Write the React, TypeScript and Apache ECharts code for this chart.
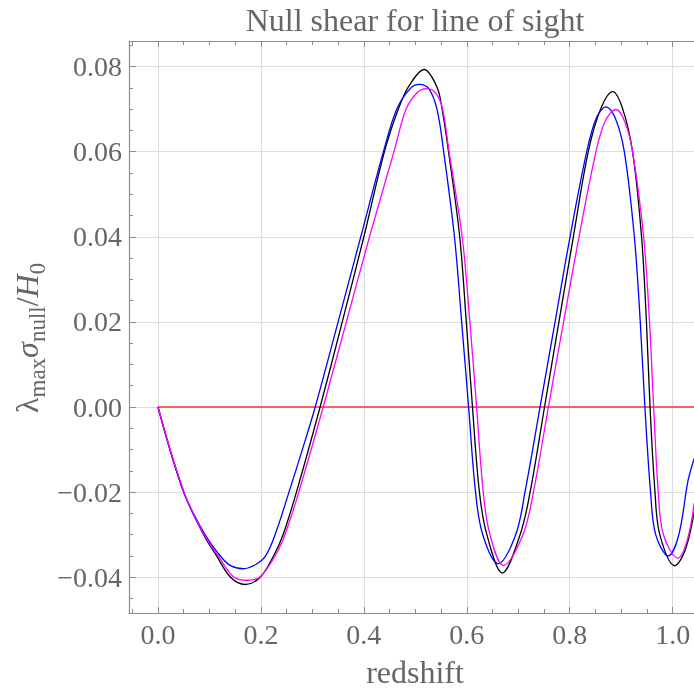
import React, { useEffect, useRef } from 'react';
import * as echarts from 'echarts';

// Plot window (data units) and tick positions
const xRange = [-0.0563, 1.0414];
const yRange = [-0.0484, 0.086];
const xMajorTicks = [0, 0.2, 0.4, 0.6, 0.8, 1.0];
const xMinorTicks = [-0.05, 0.05, 0.1, 0.15, 0.25, 0.3, 0.35, 0.45, 0.5, 0.55, 0.65, 0.7, 0.75, 0.85, 0.9, 0.95];
const yMajorTicks = [-0.04, -0.02, 0, 0.02, 0.04, 0.06, 0.08];
const yMinorTicks = [-0.045, -0.035, -0.03, -0.025, -0.015, -0.01, -0.005, 0.005, 0.01, 0.015, 0.025, 0.03, 0.035, 0.045, 0.05, 0.055, 0.065, 0.07, 0.075, 0.085];

// Null shear curves: redshift vs lambda_max * sigma_null / H0
const blackZ = [0, 0.05, 0.09, 0.114, 0.141, 0.1695, 0.1985, 0.2245, 0.243, 0.269, 0.315, 0.358, 0.4, 0.44, 0.467, 0.488, 0.517, 0.542, 0.552, 0.5645, 0.5862, 0.599, 0.611, 0.6245, 0.639, 0.669, 0.7035, 0.723, 0.751, 0.779, 0.807, 0.836, 0.86, 0.8835, 0.903, 0.922, 0.9395, 0.949, 0.956, 0.9656, 0.975, 1.004, 1.024, 1.042];
const blackS = [0, -0.02, -0.0303, -0.035, -0.04, -0.0417, -0.04, -0.035, -0.03, -0.02, 0, 0.02, 0.04, 0.06, 0.07, 0.0755, 0.0793, 0.0752, 0.07, 0.06, 0.04, 0.02, 0, -0.02, -0.03, -0.039, -0.03, -0.02, 0, 0.02, 0.04, 0.06, 0.07, 0.0741, 0.07, 0.06, 0.04, 0.02, 0, -0.02, -0.03, -0.0373, -0.0337, -0.0245];

const blueZ = [0, 0.05, 0.0915, 0.121, 0.14, 0.165, 0.19, 0.209, 0.2275, 0.2545, 0.2805, 0.3055, 0.35, 0.394, 0.438, 0.464, 0.49, 0.508, 0.526, 0.542, 0.555, 0.576, 0.59, 0.6035, 0.617, 0.631, 0.661, 0.695, 0.713, 0.7423, 0.7715, 0.8006, 0.833, 0.852, 0.8705, 0.888, 0.906, 0.9255, 0.937, 0.946, 0.957, 0.967, 0.9915, 1.0115, 1.03, 1.042];
const blueS = [0, -0.02, -0.03, -0.035, -0.0372, -0.038, -0.037, -0.035, -0.03, -0.02, -0.01, 0, 0.02, 0.04, 0.06, 0.07, 0.0748, 0.0758, 0.0748, 0.07, 0.06, 0.04, 0.02, 0, -0.02, -0.03, -0.0368, -0.03, -0.02, 0, 0.02, 0.04, 0.06, 0.068, 0.0705, 0.068, 0.06, 0.04, 0.02, 0, -0.02, -0.03, -0.035, -0.0302, -0.0172, -0.012];

const magentaZ = [0, 0.05, 0.0905, 0.117, 0.146, 0.1728, 0.1975, 0.2275, 0.2465, 0.2735, 0.321, 0.366, 0.411, 0.4585, 0.482, 0.503, 0.5223, 0.54, 0.553, 0.5655, 0.591, 0.606, 0.619, 0.632, 0.645, 0.671, 0.709, 0.7294, 0.7585, 0.788, 0.818, 0.851, 0.869, 0.89, 0.907, 0.922, 0.9435, 0.955, 0.963, 0.972, 0.982, 1.01, 1.028, 1.042];
const magentaS = [0, -0.0198, -0.0302, -0.035, -0.0398, -0.0407, -0.04, -0.035, -0.03, -0.02, 0, 0.02, 0.04, 0.06, 0.07, 0.0738, 0.0748, 0.0737, 0.07, 0.06, 0.04, 0.02, 0, -0.02, -0.03, -0.0372, -0.03, -0.02, 0, 0.02, 0.04, 0.06, 0.0672, 0.0699, 0.067, 0.06, 0.04, 0.02, 0, -0.02, -0.03, -0.0355, -0.0314, -0.0225];

// Reference level at zero
const zeroZ = [0, 1.0414];
const zeroS = [0, 0];

const SERIF = '"Liberation Serif", "DejaVu Serif", serif';
const TEXT = '#666666';
const FRAME = '#8c8c8c';
const GRID = '#dcdcdc';

const GRID_LEFT = 129;
const GRID_TOP = 41;
const GRID_BOTTOM_Y = 613;

function curve(xs: number[], ys: number[], color: string, z: number) {
  return {
    type: 'line',
    data: xs.map((x, i) => [x, ys[i]]),
    symbol: 'none',
    showSymbol: false,
    smooth: 0.35,
    lineStyle: { color, width: 1.3 },
    xAxisIndex: 0,
    yAxisIndex: 0,
    silent: true,
    z,
  };
}

function tickAxis(position: string, values: number[], length: number, withLine: boolean) {
  const vertical = position === 'left' || position === 'right';
  return {
    type: 'value',
    position,
    min: vertical ? yRange[0] : xRange[0],
    max: vertical ? yRange[1] : xRange[1],
    axisLine: { show: withLine, onZero: false, lineStyle: { color: FRAME, width: 1.2 } },
    axisTick: { show: true, inside: true, length, customValues: values, lineStyle: { color: FRAME, width: 1 } },
    axisLabel: { show: false },
    splitLine: { show: false },
  };
}

function measure(text: string, font: string) {
  const ctx = document.createElement('canvas').getContext('2d')!;
  ctx.font = font;
  return ctx.measureText(text).width;
}

export default function App() {
  const ref = useRef<HTMLDivElement>(null);
  useEffect(() => {
    const chart = echarts.init(ref.current!, null, { renderer: 'svg' });

    // y-axis label with subscripts, laid out along the baseline then rotated
    const mainSize = 32;
    const subSize = 23;
    const pieces = [
      { t: 'λ', sub: false, italic: false },
      { t: 'max', sub: true, italic: false },
      { t: 'σ', sub: false, italic: true },
      { t: 'null', sub: true, italic: false },
      { t: '/', sub: false, italic: false },
      { t: 'H', sub: false, italic: true },
      { t: '0', sub: true, italic: false },
    ];
    let cursor = 0;
    const labelChildren = pieces.map((p) => {
      const size = p.sub ? subSize : mainSize;
      const font = `${p.italic ? 'italic ' : ''}${size}px ${SERIF}`;
      const w = measure(p.t, font);
      const el = {
        type: 'text',
        x: cursor,
        y: p.sub ? 10 : 0,
        style: {
          text: p.t,
          fontSize: size,
          fontFamily: SERIF,
          fontStyle: p.italic ? 'italic' : 'normal',
          fill: TEXT,
          align: 'left',
          verticalAlign: 'middle',
        },
      };
      cursor += w;
      return el;
    });

    const option = {
      animation: false,
      grid: { left: GRID_LEFT, top: GRID_TOP, width: 566, height: GRID_BOTTOM_Y - GRID_TOP },
      xAxis: [
        {
          type: 'value',
          position: 'bottom',
          min: xRange[0],
          max: xRange[1],
          axisLine: { show: true, onZero: false, lineStyle: { color: FRAME, width: 1.2 } },
          axisTick: { show: true, inside: true, length: 6, customValues: xMajorTicks, lineStyle: { color: FRAME, width: 1 } },
          axisLabel: {
            customValues: xMajorTicks,
            formatter: (v: number) => v.toFixed(1),
            margin: 7,
            fontSize: 28,
            fontFamily: SERIF,
            color: TEXT,
          },
          splitLine: { show: true, lineStyle: { color: GRID, width: 1 } },
        },
        tickAxis('bottom', xMinorTicks, 4, false),
        tickAxis('top', xMajorTicks, 6, true),
        tickAxis('top', xMinorTicks, 4, false),
      ],
      yAxis: [
        {
          type: 'value',
          position: 'left',
          min: yRange[0],
          max: yRange[1],
          axisLine: { show: true, onZero: false, lineStyle: { color: FRAME, width: 1.2 } },
          axisTick: { show: true, inside: true, length: 7, customValues: yMajorTicks, lineStyle: { color: FRAME, width: 1 } },
          axisLabel: {
            customValues: yMajorTicks,
            formatter: (v: number) => (v < -1e-9 ? '\u2212' : '') + Math.abs(v).toFixed(2),
            margin: 7,
            fontSize: 28,
            fontFamily: SERIF,
            color: TEXT,
          },
          splitLine: { show: true, lineStyle: { color: GRID, width: 1 } },
        },
        tickAxis('left', yMinorTicks, 4, false),
      ],
      graphic: [
        {
          type: 'text',
          x: 415,
          y: 20,
          style: { text: 'Null shear for line of sight', fontSize: 32, lineHeight: 26, fontFamily: SERIF, fill: TEXT, align: 'center', verticalAlign: 'middle' },
        },
        {
          type: 'text',
          x: 415,
          y: 672,
          style: { text: 'redshift', fontSize: 32, lineHeight: 22, fontFamily: SERIF, fill: TEXT, align: 'center', verticalAlign: 'middle' },
        },
        {
          type: 'group',
          x: 27,
          y: 413,
          rotation: Math.PI / 2,
          children: labelChildren,
        },
      ],
      series: [
        curve(zeroZ, zeroS, '#ff3333', 2),
        curve(blackZ, blackS, '#000000', 3),
        curve(blueZ, blueS, '#0000ff', 4),
        curve(magentaZ, magentaS, '#ff00ff', 5),
      ],
    };
    chart.setOption(option as any);
    return () => chart.dispose();
  }, []);
  return <div ref={ref} style={{ position: 'fixed', left: 0, top: 0, width: 694, height: 690 }} />;
}
